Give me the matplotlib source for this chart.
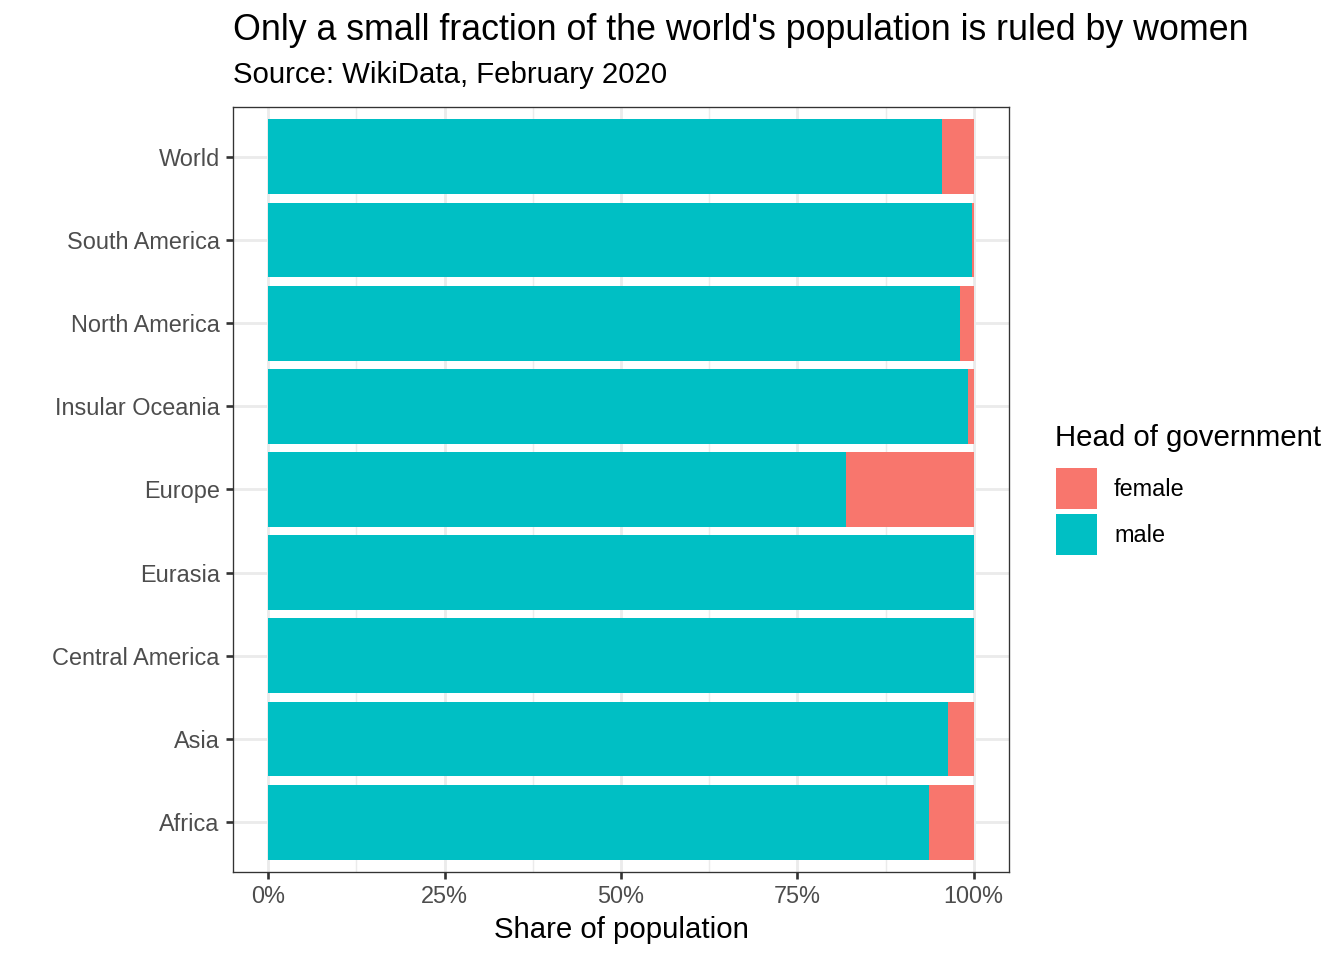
import matplotlib.pyplot as plt
from matplotlib.patches import Rectangle
from matplotlib.ticker import FixedLocator

plt.rcParams['font.family'] = ['Liberation Sans', 'DejaVu Sans']

# data (bottom to top, as in the chart)
regions = ['Africa', 'Asia', 'Central America', 'Eurasia', 'Europe',
           'Insular Oceania', 'North America', 'South America', 'World']
male_share = [93.6, 96.3, 100.0, 100.0, 81.9, 99.15, 98.0, 99.8, 95.5]
female_share = [100 - m for m in male_share]

title = "Only a small fraction of the world's population is ruled by women"
subtitle = "Source: WikiData, February 2020"
legend_title = "Head of government"
legend_labels = ['female', 'male']

c_female = '#F8766D'
c_male = '#00BFC4'
grid_col = '#EBEBEB'
dark = '#333333'

fig = plt.figure(figsize=(7, 5), dpi=192)
ax = fig.add_axes([233 / 1344, 1 - 872 / 960, (1009 - 233) / 1344, (872 - 107) / 960])

ypos = list(range(1, len(regions) + 1))
ax.barh(ypos, male_share, height=0.9, color=c_male, zorder=3)
ax.barh(ypos, female_share, left=male_share, height=0.9, color=c_female, zorder=3)

ax.set_xlim(-5, 105)
ax.set_ylim(0.4, len(regions) + 0.6)

ax.set_xticks([0, 25, 50, 75, 100])
ax.set_xticklabels(['0%', '25%', '50%', '75%', '100%'])
ax.xaxis.set_minor_locator(FixedLocator([12.5, 37.5, 62.5, 87.5]))
ax.set_yticks(ypos)
ax.set_yticklabels(regions)

ax.grid(which='major', color=grid_col, linewidth=1.07, zorder=0)
ax.grid(which='minor', axis='x', color=grid_col, linewidth=0.53, zorder=0)
ax.set_axisbelow(True)

ax.tick_params(axis='both', which='major', length=2.75, width=1.0, color=dark,
               labelcolor='#4D4D4D', labelsize=8.8, pad=2.2)
ax.tick_params(axis='both', which='minor', length=0)

for s in ax.spines.values():
    s.set_color(dark)
    s.set_linewidth(0.5)

ax.set_xlabel('Share of population', fontsize=11, color='black', labelpad=3)

fig.text(233 / 1344, 1 - 30 / 960, title, fontsize=13.4, ha='left', va='center')
fig.text(233 / 1344, 1 - 75 / 960, subtitle, fontsize=11, ha='left', va='center')

# legend
fig.text(1055 / 1344, 1 - 438 / 960, legend_title, fontsize=11, ha='left', va='center')
key_cols = [c_female, c_male]
for i, (lab, col) in enumerate(zip(legend_labels, key_cols)):
    top = 468 + i * 46
    fig.patches.append(Rectangle((1056 / 1344, 1 - (top + 41) / 960), 41 / 1344, 41 / 960,
                                 transform=fig.transFigure, facecolor=col, edgecolor='none'))
    fig.text(1114 / 1344, 1 - (top + 21) / 960, lab, fontsize=8.8, ha='left', va='center')

fig.savefig('out.png', dpi=192)
